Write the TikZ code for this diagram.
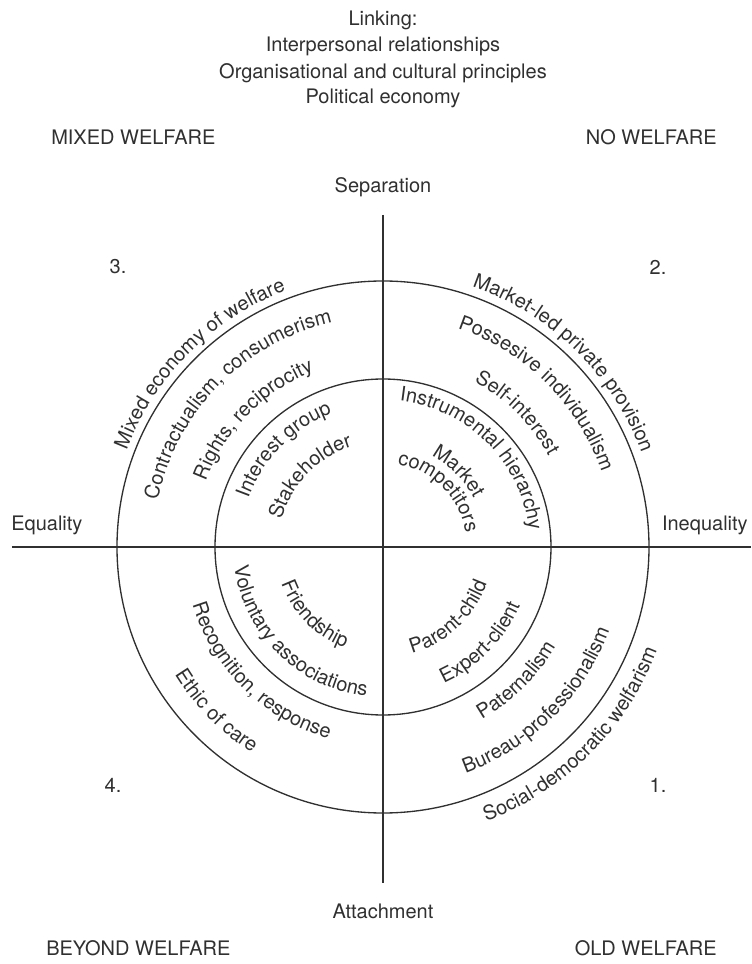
\documentclass[tikz,border=0pt]{standalone}
\usepackage{fontspec}
\setmainfont{TeX Gyre Heros}
\usetikzlibrary{decorations.text}

\definecolor{ink}{RGB}{48,48,48}
\newcommand{\labelfont}{\fontsize{15}{18}\selectfont}

% words laid on a ring, read clockwise (top half)
\newcommand{\overarc}[3]{%
  \path [decorate,decoration={text along path,text align=center,
      text={|\labelfont\color{ink}|#3}}]
    ({#2+80}:#1) arc [start angle={#2+80}, end angle={#2-80}, radius=#1];}
% words laid on a ring, read anticlockwise (bottom half)
\newcommand{\underarc}[3]{%
  \path [decorate,decoration={text along path,text align=center,
      text={|\labelfont\color{ink}|#3}}]
    ({#2-80}:#1) arc [start angle={#2-80}, end angle={#2+80}, radius=#1];}

\begin{document}
\begin{tikzpicture}[x=0.75pt,y=0.75pt,
  ring/.style={draw=ink,line width=1pt},
  axis/.style={draw=ink,line width=1pt},
  txt/.style={inner sep=0.75pt,text=ink,font=\labelfont}]
\useasboundingbox (-383,-417) rectangle (368,547);

%Heading
\draw (0,527) node (linking) [txt] {Linking:};
\draw (0,501) node (interpersonal) [txt] {Interpersonal relationships};
\draw (0,474) node (organisational) [txt] {Organisational and cultural principles};
\draw (0,449) node (political) [txt] {Political economy};

%Corner titles
\draw (-333,410) node (mixed) [txt,anchor=west] {MIXED WELFARE};
\draw (335,410) node (nowelfare) [txt,anchor=east] {NO WELFARE};
\draw (-338,-401) node (beyond) [txt,anchor=west] {BEYOND WELFARE};
\draw (335,-401) node (oldwelfare) [txt,anchor=east] {OLD WELFARE};

%Axis ends
\draw (0,360) node (separation) [txt] {Separation};
\draw (0,-364) node (attachment) [txt] {Attachment};
\draw (-373,22) node (equality) [txt,anchor=west] {Equality};
\draw (366,22) node (inequality) [txt,anchor=east] {Inequality};

%Quadrant numbers
\draw (275,-238) node (qone) [txt] {1.};
\draw (275,280) node (qtwo) [txt] {2.};
\draw (-265,280) node (qthree) [txt] {3.};
\draw (-270,-238) node (qfour) [txt] {4.};

%Axes
\coordinate (hub) at (0,0);
\coordinate (axtop) at (0,332);
\coordinate (axbot) at (0,-336);
\coordinate (axleft) at (-371,0);
\coordinate (axright) at (368,0);
\draw [axis] (axtop) -- (axbot);
\draw [axis] (axleft) -- (axright);

%Shape: Circles
\draw [ring] (hub) circle [radius=266];
\draw [ring] (hub) circle [radius=168];

%Quadrant 3
\overarc{274}{135}{Mixed economy of welfare}
\overarc{230}{135.5}{Contractualism, consumerism}
\overarc{189}{135.5}{Rights, reciprocity}
\overarc{143}{135.5}{Interest group}
\overarc{105}{136}{Stakeholder}
%Quadrant 2
\overarc{275}{45.5}{Market-led private provision}
\overarc{231}{45}{Possesive individualism}
\overarc{189}{45}{Self-interest}
\overarc{147}{45}{Instrumental hierarchy}
\overarc{103}{45}{Market}
\overarc{84}{45}{competitors}
%Quadrant 4
\underarc{244}{224.5}{Ethic of care}
\underarc{199}{225.5}{Recognition, response}
\underarc{150}{225.5}{Voluntary associations}
\underarc{108}{224.5}{Friendship}
%Quadrant 1
\underarc{293}{315}{Social-democratic welfarism}
\underarc{241}{315}{Bureau-professionalism}
\underarc{199}{315}{Paternalism}
\underarc{149}{315.5}{Expert-client}
\underarc{110}{313}{Parent-child}

\end{tikzpicture}
\end{document}
